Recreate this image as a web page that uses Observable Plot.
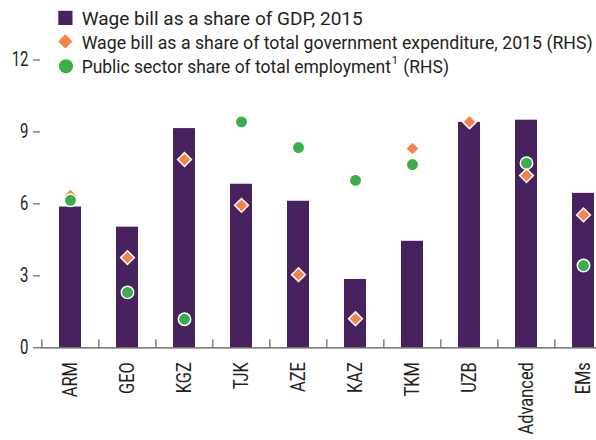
<!DOCTYPE html>
<html>
<head>
<meta charset="utf-8">
<script src="https://cdn.jsdelivr.net/npm/d3@7"></script>
<script src="https://cdn.jsdelivr.net/npm/@observablehq/plot@0.6"></script>
<style>
  html, body { margin: 0; padding: 0; background: #fff; }
  #wrap { position: relative; width: 596px; height: 440px; overflow: hidden; }
  #legend { position: absolute; left: 0; top: 0; pointer-events: none; }
</style>
</head>
<body>
<div id="wrap"></div>
<script>
// ---- data ----
const categories = ["ARM", "GEO", "KGZ", "TJK", "AZE", "KAZ", "TKM", "UZB", "Advanced", "EMs"];
const wageBillGDP = [5.87, 5.03, 9.14, 6.82, 6.11, 2.85, 4.44, 9.40, 9.49, 6.44];
const wageBillExpenditure = [6.35, 3.76, 7.85, 5.94, 3.05, 1.21, 8.31, 9.42, 7.18, 5.54];
const publicEmployment = [6.15, 2.31, 1.19, 9.42, 8.35, 6.98, 7.64, null, 7.70, 3.43];
const yTicks = [0, 3, 6, 9, 12];
const seriesNames = [
  "Wage bill as a share of GDP, 2015",
  "Wage bill as a share of total government expenditure, 2015 (RHS)",
  "Public sector share of total employment"
];
const footnoteMark = "1";
const rhsSuffix = "(RHS)";

// ---- styles ----
const purple = "#48225f";
const orange = "#f5834a";
const green = "#3aae49";
const axisFont = "Roboto, 'Liberation Sans', sans-serif";
const legendFont = "Roboto, 'Liberation Sans', sans-serif";

const rows = categories.map((c, i) => ({
  cat: c,
  gdp: wageBillGDP[i],
  exp: wageBillExpenditure[i],
  emp: publicEmployment[i]
}));

const chart = Plot.plot({
  width: 596,
  height: 440,
  marginLeft: 40,
  marginRight: 0,
  marginTop: 59.5,
  marginBottom: 92.7,
  style: { fontFamily: axisFont, fontSize: "20px", color: "#231f20", background: "white" },
  x: { domain: categories, range: [40.7, 612.9], paddingInner: 0.62, paddingOuter: 0.31, label: null },
  y: { domain: [0, 12], label: null },
  marks: [
    Plot.barY(rows, { x: "cat", y: "gdp", fill: purple }),
    Plot.ruleY([0], { stroke: "#555", strokeWidth: 1.3 }),
    Plot.axisY({ ticks: yTicks, tickSize: 7, tickPadding: 5, stroke: "#444", fill: "#231f20", fontSize: 20, label: null }),
    Plot.axisX({ tickSize: -8, dx: -28.6, text: null, stroke: "#444", label: null }),
    Plot.axisX({ tickSize: 0, tickPadding: 14.4, tickRotate: -90, fill: "#231f20", fontSize: 21, label: null }),
    Plot.dot(rows, { x: "cat", y: "exp", symbol: "diamond2", r: 6.2, fill: orange, stroke: "white", strokeWidth: 1.5 }),
    Plot.dot(rows.filter(d => d.emp != null), { x: "cat", y: "emp", r: 6.2, fill: green, stroke: "white", strokeWidth: 1.5 })
  ]
});

// emulate the condensed face of the reference by squeezing text along its reading direction
function condense(sel, s) {
  sel.each(function () {
    const t = d3.select(this);
    const tr = t.attr("transform");
    if (tr) {
      t.attr("transform", tr + ` scale(${s},1)`);
    } else {
      const x = +t.attr("x") || 0, y = +t.attr("y") || 0;
      t.attr("x", null).attr("y", null).attr("transform", `translate(${x},${y}) scale(${s},1)`);
    }
  });
}
const root = d3.select(chart);
condense(root.selectAll('g[aria-label="x-axis tick label"] text'), 0.78);
condense(root.selectAll('g[aria-label="y-axis tick label"] text'), 0.75);

const wrap = document.getElementById("wrap");
wrap.appendChild(chart);

// ---- legend (overlay) ----
const leg = d3.create("svg")
  .attr("id", "legend")
  .attr("width", 596).attr("height", 90)
  .style("font-family", legendFont)
  .style("font-size", "19px");
wrap.appendChild(leg.node());

const baselines = [25, 48.8, 72.7];
const tx = 81.7;
// symbols
leg.append("rect").attr("x", 58.3).attr("y", 10.8).attr("width", 14.2).attr("height", 14.2).attr("fill", purple);
leg.append("path").attr("d", d3.symbol(d3.symbolDiamond2, 130)()).attr("transform", "translate(65.3,41.4)").attr("fill", orange);
leg.append("circle").attr("cx", 66).attr("cy", 66.3).attr("r", 7).attr("fill", green);

// lines 1 and 2: fit to reference widths
const lineWidths = [281, 511];
for (let i = 0; i < 2; i++) {
  leg.append("text").attr("x", tx).attr("y", baselines[i]).attr("fill", "#231f20")
    .attr("textLength", lineWidths[i]).attr("lengthAdjust", "spacingAndGlyphs").text(seriesNames[i]);
}
// line 3: main text + superscript + (RHS), squeezed by one common factor
const lineEnd = 449, supGap = 1, supWidth = 6, rhsGap = 5.5;
const main = leg.append("text").attr("x", tx).attr("y", baselines[2]).attr("fill", "#231f20").text(seriesNames[2]);
const rhs = leg.append("text").attr("y", baselines[2]).attr("fill", "#231f20").text(rhsSuffix);
const w1 = main.node().getComputedTextLength();
const w3 = rhs.node().getComputedTextLength();
const f = (lineEnd - tx - supGap - supWidth - rhsGap) / (w1 + w3);
main.attr("textLength", w1 * f).attr("lengthAdjust", "spacingAndGlyphs");
const supX = tx + w1 * f + supGap;
leg.append("text").attr("x", supX).attr("y", baselines[2] - 8.3).attr("fill", "#231f20")
  .attr("font-size", "11px").text(footnoteMark);
rhs.attr("x", supX + supWidth + rhsGap).attr("textLength", w3 * f).attr("lengthAdjust", "spacingAndGlyphs");
</script>
</body>
</html>
